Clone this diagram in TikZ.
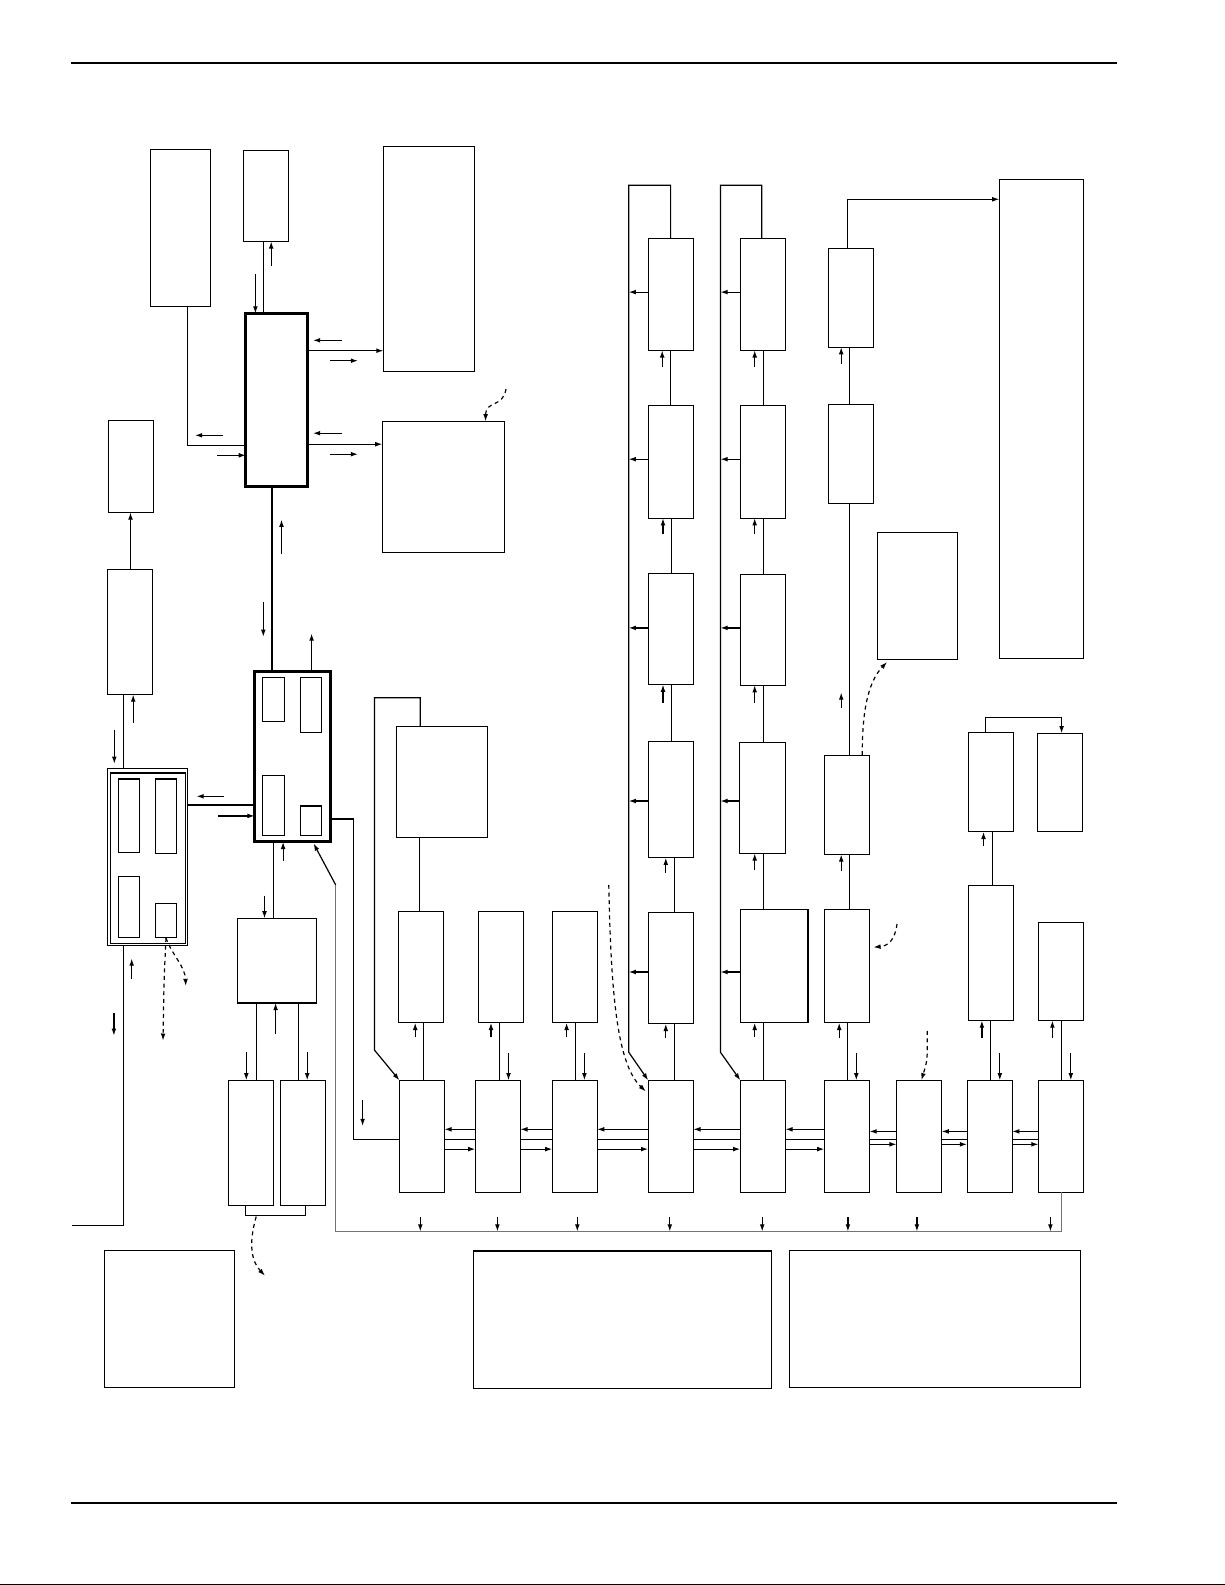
\documentclass[tikz,border=0pt]{standalone}
\usetikzlibrary{arrows.meta}
\tikzset{
  box/.style={draw, line width=0.6pt, inner sep=0pt, outer sep=0pt},
  tbox/.style={box, line width=1.5pt},
  ln/.style={line width=0.6pt},
  ar/.style={ln, -{Latex[length=3.6pt,width=2.4pt]}},
  dsh/.style={ar, dash pattern=on 2pt off 1.8pt},
  grayln/.style={ln, draw=black!55},
  rule/.style={line width=1.2pt},
}
\newcommand{\bx}[6][]{%
  \pgfmathsetmacro\bxw{(#5-#3)*0.5}%
  \pgfmathsetmacro\bxh{(#6-#4)*0.5}%
  \node[box,#1,minimum width=\bxw pt,minimum height=\bxh pt] (#2) at ({(#3+#5)/2},{(#4+#6)/2}) {};}
\begin{document}
\begin{tikzpicture}[x=0.5pt,y=-0.5pt]
\useasboundingbox (0,0) rectangle (1225,1585);
% rules
\draw[rule] (71,63) -- (1117,63);
\draw[rule] (71,1503) -- (1117,1503);
\draw[line width=0.4pt] (0,1584) -- (1225,1584);
% ---------- boxes ----------
\bx{A}{150.3}{149.3}{210.4}{306.4}
\bx{B}{243.6}{150.3}{288.6}{241.4}
\bx{C}{383.5}{146.4}{474.5}{371.4}
\bx[tbox]{D}{245.9}{313.5}{307.2}{486}
\bx{E}{382.4}{421.4}{504.5}{552.8}
\bx{F}{108.3}{420.3}{153.4}{512.4}
\bx{G}{107.5}{569.2}{152.6}{694.5}
\bx{H}{107.5}{768.8}{187.4}{945.2}
\bx[line width=0.8pt]{Hin}{110.3}{773.1}{185.4}{943.5}
\bx{H1}{118.2}{779}{139.6}{852.7}
\bx{H2}{155.4}{779}{176.3}{853.7}
\bx{H3}{118.2}{876.6}{139.6}{937.3}
\bx{H4}{155.4}{903.4}{176.3}{937.3}
\bx[tbox]{I}{254.6}{671.3}{330.2}{841.8}
\bx{I1}{262.5}{677.6}{284.3}{721.4}
\bx{I2}{300.5}{677.6}{321.5}{732.3}
\bx{I3}{262.5}{775.1}{284.3}{835.8}
\bx{I4}{300.5}{806}{321.5}{835.8}
\bx{J}{237.2}{918.4}{316.3}{1002.9}
\bx{K1}{228.5}{1080.3}{273.2}{1205.5}
\bx{K2}{280.3}{1080.3}{325.4}{1205.5}
\bx{L}{396.2}{726.4}{487.5}{837.8}
\bx{M1}{398.6}{911.4}{443.2}{1022.8}
\bx{M2}{478.4}{911.4}{523.5}{1022.8}
\bx{M3}{552.4}{911.4}{597.1}{1022.8}
\bx{Q1}{399.4}{1080.3}{444.4}{1192.3}
\bx{Q2}{475.3}{1080.3}{520.3}{1192.3}
\bx{Q3}{552.4}{1080.3}{597.1}{1192.3}
\bx{Q4}{648.2}{1080.3}{693.3}{1192.3}
\bx{Q5}{740.3}{1080.3}{785.4}{1192.3}
\bx{Q6}{824.4}{1080.3}{869.5}{1192.3}
\bx{Q7}{896.6}{1080.3}{941.6}{1192.3}
\bx{Q8}{967.1}{1080.3}{1012.2}{1192.3}
\bx{Q9}{1038.5}{1080.3}{1083.5}{1192.3}
\bx{T1}{648.2}{238.2}{693.3}{350.3}
\bx{T2}{648.2}{405.3}{693.3}{518.2}
\bx{T3}{648.2}{573.2}{693.3}{684.6}
\bx{T4}{648.2}{741.3}{693.3}{857.7}
\bx{T5}{648.2}{912.4}{693.3}{1023.8}
\bx{U1}{740.3}{238.2}{785.4}{350.3}
\bx{U2}{740.3}{405.3}{785.4}{518.2}
\bx{U3}{740.3}{574.2}{785.4}{685.2}
\bx{U4}{739.5}{742.3}{785.4}{853.4}
\bx{U5}{740.3}{909.4}{808}{1022.8}
\bx{V1}{828.4}{248.2}{873.4}{347.1}
\bx{V2}{828.4}{404.2}{873.4}{503.2}
\bx{V3}{824.4}{755.5}{869.5}{854.4}
\bx{V4}{824.4}{909.4}{869.5}{1022.8}
\bx{W}{999.4}{179.3}{1083.5}{658.7}
\bx{X}{877.4}{532.1}{957.5}{659.7}
\bx{Y1}{968.3}{732.3}{1013.3}{831.8}
\bx{Y2}{1037.3}{733.3}{1082.3}{831.8}
\bx{Y3}{968.3}{885.5}{1013.3}{1020.5}
\bx{Y4}{1038.5}{922.3}{1083.5}{1020.5}
\bx{P}{104.4}{1250.3}{234.5}{1387.3}
\bx{R}{473.3}{1251}{771.4}{1388.3}
\bx{S}{789.3}{1250.3}{1080.7}{1387.3}
% ---------- connectors: left part ----------
\draw[ln] (263.3,0 |- D.north) -- (263.3,0 |- B.south);
\draw[ar] (271.2,266) -- (271.2,0 |- B.south);
\draw[ar] (255.4,274) -- (255.4,0 |- D.north);
\draw[ln] (187.4,0 |- A.south) |- (D.west |- 0,445.7);
\draw[ar] (222.6,435.3) -- (195,435.3);
\draw[ar] (217,455.3) -- (D.west |- 0,455.3);
\draw[ar] (D.east |- 0,350.7) -- (C.west |- 0,350.7);
\draw[ar] (342,340.3) -- (313,340.3);
\draw[ar] (330,360.7) -- (358,360.7);
\draw[ar] (D.east |- 0,444.2) -- (E.west |- 0,444.2);
\draw[ar] (342,433.2) -- (313,433.2);
\draw[ar] (330,454.2) -- (358,454.2);
\draw[dsh] (506,389) .. controls (503,408) and (486,400) .. (485.5,0 |- E.north);
\draw[ln] (272,0 |- D.south) -- (272,0 |- I.north);
\draw[ar] (281.5,553.5) -- (281.5,519.6);
\draw[ar] (263.3,601.7) -- (263.3,636.8);
\draw[ar] (311.6,0 |- I.north) -- (311.6,633.5);
\draw[ar] (130.5,0 |- G.north) -- (130.5,0 |- F.south);
\draw[ln] (123.4,0 |- G.south) -- (123.4,0 |- H.north);
\draw[ar] (133.2,723) -- (133.2,0 |- G.south);
\draw[ar] (114.3,729.7) -- (114.3,763.8);
\draw[ln] (H.east |- 0,805) -- (I.west |- 0,805);
\draw[ar] (223.8,796.3) -- (196.5,796.3);
\draw[ar] (217.9,815.9) -- (I.west |- 0,815.9);
\coordinate (hend) at (72,1225.3);
\draw[ln] (123.4,0 |- H.south) |- (hend);
\draw[ar] (131.7,979.4) -- (131.7,958.5);
\draw[ar] (113.9,1013.2) -- (113.9,1035.7);
\draw[dsh] (166,938) .. controls (172,955) and (185,966) .. (185.8,986);
\draw[dsh] (166,938) .. controls (164,980) .. (163,1040.7);
\draw[ln] (273.2,0 |- I.south) -- (273.2,0 |- J.north);
\draw[ar] (283.1,861) -- (283.1,0 |- I.south);
\draw[ar] (264.5,895.5) -- (264.5,0 |- J.north);
\draw[ln] (256.2,0 |- J.south) -- (256.2,0 |- K1.north);
\draw[ln] (298.5,0 |- J.south) -- (298.5,0 |- K2.north);
\draw[ar] (275.6,1034) -- (275.6,0 |- J.south);
\draw[ar] (246.3,1052) -- (246.3,0 |- K1.north);
\draw[ar] (307.2,1052) -- (307.2,0 |- K2.north);
\draw[ln] (245.5,0 |- K1.south) -- (245.5,1215.5) -- (305.2,1215.5) -- (305.2,0 |- K2.south);
\draw[dsh] (256.2,1216.6) .. controls (248,1245) and (252,1262) .. (265,1275.7);
% I right to Q1
\draw[ln] (I.east |- 0,818.9) -| (353.1,1139.4) -- (Q1.west |- 0,1139.4);
\draw[ar] (362.6,1100) -- (362.6,1126);
% bus
\coordinate (busA) at (335.7,884.9);
\draw[ar] (busA) -- (313.6,843.5);
\draw[grayln] (busA) |- (1061.2,1231.5) -- (1061.2,0 |- Q9.south);
\foreach \x in {420.3,497.4,577.3,669.8,762.2,847.9,916.9,1050.4}
  \draw[ar] (\x,1217.3) -- (\x,1231.5);
% L loop
\draw[ar] (420.3,0 |- L.north) |- (374.4,697.8) -- (374.4,1050) -- (Q1.north west);
\draw[ln] (419.5,0 |- L.south) -- (419.5,0 |- M1.north);
% M to Q
\draw[ln] (423.5,0 |- M1.south) -- (423.5,0 |- Q1.north);
\draw[ar] (415.2,1037.4) -- (415.2,0 |- M1.south);
\draw[ln] (499.4,0 |- M2.south) -- (499.4,0 |- Q2.north);
\draw[ar] (491,1037.4) -- (491,0 |- M2.south);
\draw[ar] (508.5,1052.9) -- (508.5,0 |- Q2.north);
\draw[ln] (575.3,0 |- M3.south) -- (575.3,0 |- Q3.north);
\draw[ar] (566.6,1037.4) -- (566.6,0 |- M3.south);
\draw[ar] (584.4,1052.9) -- (584.4,0 |- Q3.north);
% Q horizontal links
\foreach \a/\b in {Q1/Q2,Q2/Q3,Q3/Q4,Q4/Q5,Q5/Q6}{
  \draw[ar] (\b.west |- 0,1129.3) -- (\a.east |- 0,1129.3);
  \draw[ln] (\a.east |- 0,1139.4) -- (\b.west |- 0,1139.4);
  \draw[ar] (\a.east |- 0,1149.1) -- (\b.west |- 0,1149.1);
}
\foreach \a/\b in {Q6/Q7,Q7/Q8,Q8/Q9}{
  \draw[ar] (\b.west |- 0,1131.4) -- (\a.east |- 0,1131.4);
  \draw[ln] (\a.east |- 0,1139.4) -- (\b.west |- 0,1139.4);
  \draw[ar] (\a.east |- 0,1144.3) -- (\b.west |- 0,1144.3);
}
% ---------- column T ----------
\draw[ar] (670.6,0 |- T1.north) |- (628.7,185.3) -- (628.7,1052.2) -- (Q4.north west);
\draw[dsh] (608.8,884.9) .. controls (611,1000) and (618,1065) .. (645.8,1091.4);
\foreach \n/\y in {T1/292.1,T2/459.2,T3/627.9,T4/801,T5/972}
  \draw[ar] (\n.west |- 0,\y) -- (628.7,\y);
\draw[ln] (670.6,0 |- T1.south) -- (670.6,0 |- T2.north);
\draw[ln] (671.3,0 |- T2.south) -- (671.3,0 |- T3.north);
\draw[ln] (671.3,0 |- T3.south) -- (671.3,0 |- T4.north);
\draw[ln] (674.5,0 |- T4.south) -- (674.5,0 |- T5.north);
\draw[ln] (674.5,0 |- T5.south) -- (674.5,0 |- Q4.north);
\draw[ar] (662.2,366.7) -- (662.2,0 |- T1.south);
\draw[ar] (663,533.9) -- (663,0 |- T2.south);
\draw[ar] (663,702.5) -- (663,0 |- T3.south);
\draw[ar] (665.8,872.6) -- (665.8,0 |- T4.south);
\draw[ar] (665.8,1038) -- (665.8,0 |- T5.south);
% ---------- column U ----------
\draw[ar] (761.8,0 |- U1.north) |- (720.4,185.3) -- (720.4,1052.2) -- (Q5.north west);
\foreach \n/\y in {U1/292.1,U2/459.2,U3/627.9,U4/801,U5/972}
  \draw[ar] (\n.west |- 0,\y) -- (720.4,\y);
\draw[ln] (763.4,0 |- U1.south) -- (763.4,0 |- U2.north);
\draw[ln] (763.4,0 |- U2.south) -- (763.4,0 |- U3.north);
\draw[ln] (763.4,0 |- U3.south) -- (763.4,0 |- U4.north);
\draw[ln] (763.4,0 |- U4.south) -- (763.4,0 |- U5.north);
\draw[ln] (763.4,0 |- U5.south) -- (763.4,0 |- Q5.north);
\draw[ar] (754.7,366.7) -- (754.7,0 |- U1.south);
\draw[ar] (754.7,533.9) -- (754.7,0 |- U2.south);
\draw[ar] (754.7,702.5) -- (754.7,0 |- U3.south);
\draw[ar] (754.7,870) -- (754.7,0 |- U4.south);
\draw[ar] (754.7,1037.4) -- (754.7,0 |- U5.south);
% ---------- column V ----------
\draw[ar] (847.5,0 |- V1.north) |- (W.west |- 0,199.3);
\draw[ln] (849.5,0 |- V1.south) -- (849.5,0 |- V2.north);
\draw[ln] (849.5,0 |- V2.south) -- (849.5,0 |- V3.north);
\draw[ln] (849.5,0 |- V3.south) -- (849.5,0 |- V4.north);
\draw[ln] (847.5,0 |- V4.south) -- (847.5,0 |- Q6.north);
\draw[ar] (841.2,363.5) -- (841.2,0 |- V1.south);
\draw[ar] (841.2,707.5) -- (841.2,692.5);
\draw[ar] (841.2,871) -- (841.2,0 |- V3.south);
\draw[ar] (839.2,1038) -- (839.2,0 |- V4.south);
\draw[ar] (856.3,1052.9) -- (856.3,0 |- Q6.north);
\draw[dsh] (862.3,755) .. controls (862,705) and (870,680) .. (887,662);
\draw[dsh] (897,924) .. controls (895,940) and (888,946) .. (873.4,947.2);
\draw[dsh] (927.2,1030.8) .. controls (927.5,1060) .. (921.3,0 |- Q7.north);
% ---------- column Y ----------
\draw[ar] (985.4,0 |- Y1.north) |- (1061.6,717.4) -- (1061.6,0 |- Y2.north);
\draw[ln] (992.2,0 |- Y1.south) -- (992.2,0 |- Y3.north);
\draw[ar] (983.5,845.7) -- (983.5,0 |- Y1.south);
\draw[ln] (990.2,0 |- Y3.south) -- (990.2,0 |- Q8.north);
\draw[ar] (981.9,1038) -- (981.9,0 |- Y3.south);
\draw[ar] (999.8,1052.9) -- (999.8,0 |- Q8.north);
\draw[ln] (1061.6,0 |- Y4.south) -- (1061.6,0 |- Q9.north);
\draw[ar] (1052.4,1038) -- (1052.4,0 |- Y4.south);
\draw[ar] (1070.8,1052.9) -- (1070.8,0 |- Q9.north);
\end{tikzpicture}
\end{document}
